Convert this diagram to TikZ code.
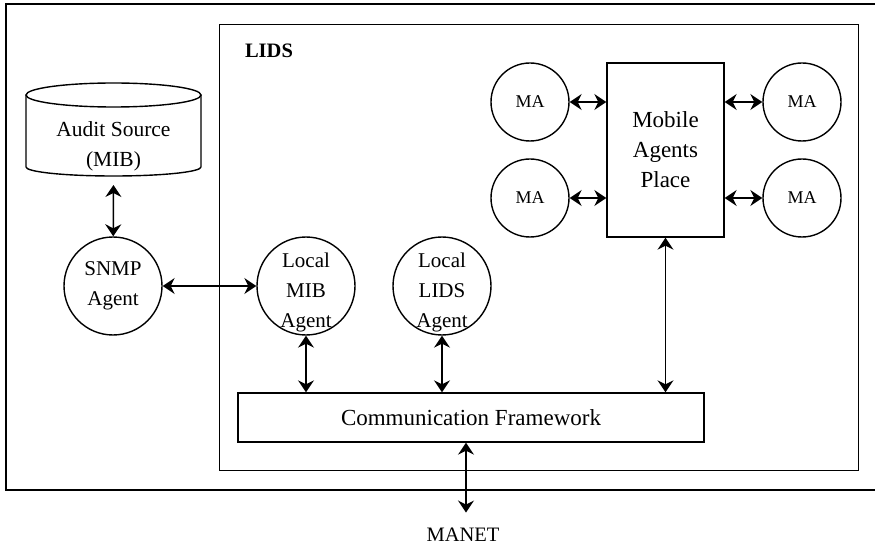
\documentclass[tikz,border=0pt]{standalone}
\usepackage{fontspec}
\setmainfont{Liberation Serif}
\usetikzlibrary{arrows.meta}
\begin{document}
\begin{tikzpicture}[x=1pt,y=-1pt,
  line width=1.4pt,
  tip/.tip={Stealth[length=12pt,width=16pt,inset=4pt]},
  link/.style={tip-tip, line width=1.5pt},
  agent/.style={draw, circle, minimum size=98pt, inner sep=0pt},
  ma/.style={draw, circle, minimum size=78pt, inner sep=0pt,
    font=\fontsize{18}{22}\selectfont},
  caption/.style={align=center, inner sep=0pt,
    font=\fontsize{21}{30}\selectfont},
  bigcaption/.style={align=center, inner sep=0pt,
    font=\fontsize{23}{30}\selectfont},
]
\useasboundingbox (0,0) rectangle (875,545);

% outer frame (runs off the right edge)
\draw (875,4) -- (6,4) -- (6,490) -- (875,490);

% LIDS frame and its title
\node[draw, anchor=north west, minimum width=639pt, minimum height=446pt,
  inner sep=0pt] (lids) at (219,24) {};
\node[inner sep=0pt, font=\bfseries\fontsize{20.5}{24}\selectfont]
  (lidstitle) at (269,51) {LIDS};

% audit source drum
\draw (113.5,95) ellipse [x radius=87.5, y radius=12];
\draw (26,95) -- (26,167)
  arc[start angle=180, end angle=0, x radius=87.5, y radius=9] -- (201,95);
\coordinate (drumbase) at (113.5,176);
\node[caption, font=\fontsize{21.5}{30}\selectfont] (audit) at (113.5,146)
  {Audit Source\\(MIB)};

% agents
\node[agent, caption] (snmp) at (113,286) {SNMP\\Agent};
\node[agent] (mib) at (306,286) {};
\node[caption] (mibtext) at (306,292) {Local\\MIB\\Agent};
\node[agent] (lidsag) at (442,286) {};
\node[caption] (lidsagtext) at (442,292) {Local\\LIDS\\Agent};

% communication framework and the network below it
\node[draw, minimum width=466pt, minimum height=49pt, inner sep=0pt,
  font=\fontsize{23}{28}\selectfont] (comm) at (471,417.5)
  {Communication Framework};
\node[inner sep=0pt, font=\fontsize{20.5}{24}\selectfont] (manet) at (463,535) {MANET};

% mobile agents place with its four mobile agents
\node[draw, bigcaption, minimum width=117pt, minimum height=174pt] (map)
  at (665.5,150) {Mobile\\Agents\\Place};
\node[ma] (ma1) at (530,102) {MA};
\node[ma] (ma2) at (530,198) {MA};
\node[ma] (ma3) at (802,102) {MA};
\node[ma] (ma4) at (802,198) {MA};

% connectors
\draw[link, shorten <=9pt] (drumbase) -- (snmp);
\draw[link] (snmp.east) -- (mib.west);
\draw[link] (mib) -- (mib |- comm.north);
\draw[link] (lidsag) -- (lidsag |- comm.north);
\draw[link] (map) -- (map |- comm.north);
\draw[link, shorten >=15pt] ([xshift=-5pt]comm.south)
  -- ([xshift=-5pt]comm.south |- manet.north);
\draw[link] (ma1) -- (ma1 -| map.west);
\draw[link] (ma2) -- (ma2 -| map.west);
\draw[link] (ma3) -- (ma3 -| map.east);
\draw[link] (ma4) -- (ma4 -| map.east);
\end{tikzpicture}
\end{document}
